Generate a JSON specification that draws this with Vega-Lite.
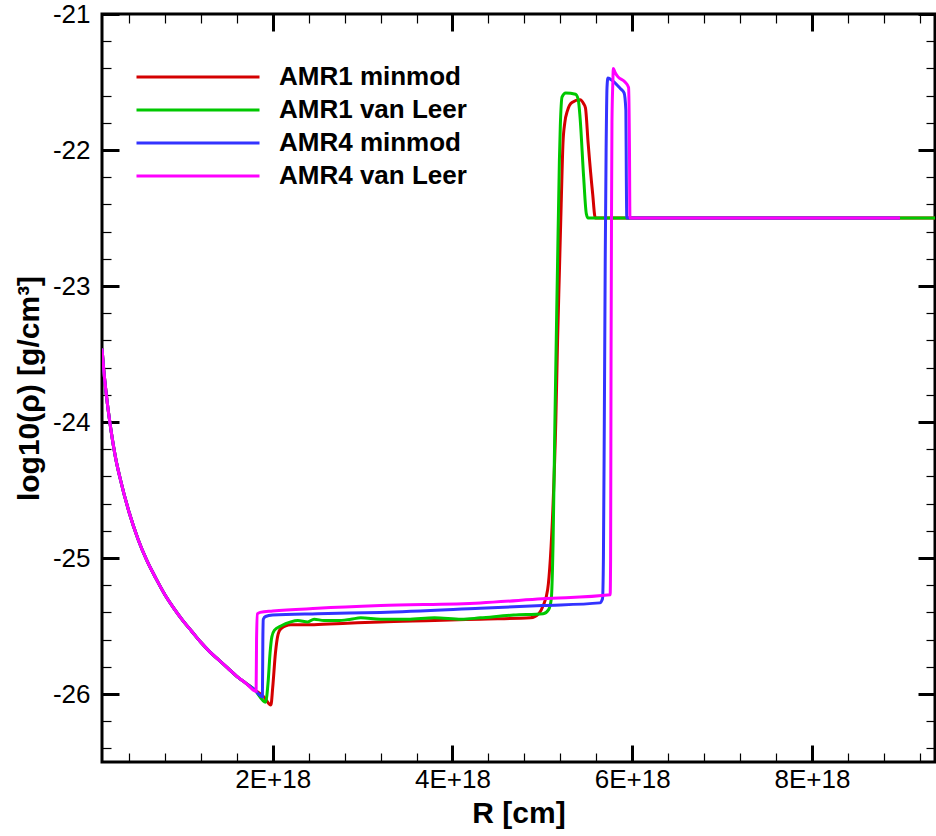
{
  "$schema": "https://vega.github.io/schema/vega-lite/v6.json",
  "width": 833,
  "height": 748,
  "autosize": {"type": "none"},
  "padding": {"left": 102, "top": 14, "right": 1, "bottom": 74},
  "background": "white",
  "config": {
    "view": {"stroke": "black", "strokeWidth": 3},
    "font": "Liberation Sans",
    "axis": {"grid": false, "domain": false, "labelFont": "Liberation Sans", "titleFont": "Liberation Sans", "labelColor": "black", "titleColor": "black", "tickColor": "black", "labelOverlap": false, "labelFlush": false}
  },
  "data": {"values": [
    {"run":"AMR1 minmod","R":0.1e18,"logrho":-23.46},{"run":"AMR1 minmod","R":0.12e18,"logrho":-23.62},{"run":"AMR1 minmod","R":0.15e18,"logrho":-23.81},{"run":"AMR1 minmod","R":0.2e18,"logrho":-24.06},{"run":"AMR1 minmod","R":0.25e18,"logrho":-24.26},{"run":"AMR1 minmod","R":0.3e18,"logrho":-24.41},{"run":"AMR1 minmod","R":0.4e18,"logrho":-24.66},{"run":"AMR1 minmod","R":0.5e18,"logrho":-24.86},{"run":"AMR1 minmod","R":0.6e18,"logrho":-25.02},{"run":"AMR1 minmod","R":0.7e18,"logrho":-25.15},{"run":"AMR1 minmod","R":0.8e18,"logrho":-25.27},{"run":"AMR1 minmod","R":0.9e18,"logrho":-25.37},{"run":"AMR1 minmod","R":1.0e18,"logrho":-25.46},{"run":"AMR1 minmod","R":1.1e18,"logrho":-25.54},{"run":"AMR1 minmod","R":1.2e18,"logrho":-25.62},{"run":"AMR1 minmod","R":1.3e18,"logrho":-25.69},{"run":"AMR1 minmod","R":1.4e18,"logrho":-25.75},{"run":"AMR1 minmod","R":1.5e18,"logrho":-25.81},{"run":"AMR1 minmod","R":1.6e18,"logrho":-25.87},{"run":"AMR1 minmod","R":1.7e18,"logrho":-25.92},{"run":"AMR1 minmod","R":1.8e18,"logrho":-25.97},{"run":"AMR1 minmod","R":1.9e18,"logrho":-26.02},{"run":"AMR1 minmod","R":1.98e18,"logrho":-26.08},{"run":"AMR1 minmod","R":2.0e18,"logrho":-25.95},{"run":"AMR1 minmod","R":2.03e18,"logrho":-25.7},{"run":"AMR1 minmod","R":2.06e18,"logrho":-25.56},{"run":"AMR1 minmod","R":2.09e18,"logrho":-25.52},{"run":"AMR1 minmod","R":2.2e18,"logrho":-25.49},{"run":"AMR1 minmod","R":2.46e18,"logrho":-25.49},{"run":"AMR1 minmod","R":2.83e18,"logrho":-25.48},{"run":"AMR1 minmod","R":3.2e18,"logrho":-25.47},{"run":"AMR1 minmod","R":3.8e18,"logrho":-25.46},{"run":"AMR1 minmod","R":4.31e18,"logrho":-25.45},{"run":"AMR1 minmod","R":4.87e18,"logrho":-25.44},{"run":"AMR1 minmod","R":4.96e18,"logrho":-25.41},{"run":"AMR1 minmod","R":5.01e18,"logrho":-25.35},{"run":"AMR1 minmod","R":5.06e18,"logrho":-25.23},{"run":"AMR1 minmod","R":5.09e18,"logrho":-25.0},{"run":"AMR1 minmod","R":5.12e18,"logrho":-24.6},{"run":"AMR1 minmod","R":5.15e18,"logrho":-24.0},{"run":"AMR1 minmod","R":5.17e18,"logrho":-23.4},{"run":"AMR1 minmod","R":5.19e18,"logrho":-22.9},{"run":"AMR1 minmod","R":5.21e18,"logrho":-22.4},{"run":"AMR1 minmod","R":5.23e18,"logrho":-21.95},{"run":"AMR1 minmod","R":5.25e18,"logrho":-21.8},{"run":"AMR1 minmod","R":5.28e18,"logrho":-21.71},{"run":"AMR1 minmod","R":5.33e18,"logrho":-21.65},{"run":"AMR1 minmod","R":5.42e18,"logrho":-21.63},{"run":"AMR1 minmod","R":5.46e18,"logrho":-21.66},{"run":"AMR1 minmod","R":5.48e18,"logrho":-21.69},{"run":"AMR1 minmod","R":5.51e18,"logrho":-21.95},{"run":"AMR1 minmod","R":5.56e18,"logrho":-22.32},{"run":"AMR1 minmod","R":5.59e18,"logrho":-22.5},{"run":"AMR1 minmod","R":9.4e18,"logrho":-22.5},

    {"run":"AMR1 van Leer","R":0.1e18,"logrho":-23.46},{"run":"AMR1 van Leer","R":0.12e18,"logrho":-23.62},{"run":"AMR1 van Leer","R":0.15e18,"logrho":-23.81},{"run":"AMR1 van Leer","R":0.2e18,"logrho":-24.06},{"run":"AMR1 van Leer","R":0.25e18,"logrho":-24.26},{"run":"AMR1 van Leer","R":0.3e18,"logrho":-24.41},{"run":"AMR1 van Leer","R":0.4e18,"logrho":-24.66},{"run":"AMR1 van Leer","R":0.5e18,"logrho":-24.86},{"run":"AMR1 van Leer","R":0.6e18,"logrho":-25.02},{"run":"AMR1 van Leer","R":0.7e18,"logrho":-25.15},{"run":"AMR1 van Leer","R":0.8e18,"logrho":-25.27},{"run":"AMR1 van Leer","R":0.9e18,"logrho":-25.37},{"run":"AMR1 van Leer","R":1.0e18,"logrho":-25.46},{"run":"AMR1 van Leer","R":1.1e18,"logrho":-25.54},{"run":"AMR1 van Leer","R":1.2e18,"logrho":-25.62},{"run":"AMR1 van Leer","R":1.3e18,"logrho":-25.69},{"run":"AMR1 van Leer","R":1.4e18,"logrho":-25.75},{"run":"AMR1 van Leer","R":1.5e18,"logrho":-25.81},{"run":"AMR1 van Leer","R":1.6e18,"logrho":-25.87},{"run":"AMR1 van Leer","R":1.7e18,"logrho":-25.92},{"run":"AMR1 van Leer","R":1.8e18,"logrho":-25.97},{"run":"AMR1 van Leer","R":1.92e18,"logrho":-26.06},{"run":"AMR1 van Leer","R":1.95e18,"logrho":-25.9},{"run":"AMR1 van Leer","R":1.97e18,"logrho":-25.7},{"run":"AMR1 van Leer","R":1.99e18,"logrho":-25.58},{"run":"AMR1 van Leer","R":2.02e18,"logrho":-25.53},{"run":"AMR1 van Leer","R":2.09e18,"logrho":-25.5},{"run":"AMR1 van Leer","R":2.2e18,"logrho":-25.47},{"run":"AMR1 van Leer","R":2.28e18,"logrho":-25.46},{"run":"AMR1 van Leer","R":2.39e18,"logrho":-25.47},{"run":"AMR1 van Leer","R":2.46e18,"logrho":-25.45},{"run":"AMR1 van Leer","R":2.57e18,"logrho":-25.46},{"run":"AMR1 van Leer","R":2.72e18,"logrho":-25.46},{"run":"AMR1 van Leer","R":2.87e18,"logrho":-25.45},{"run":"AMR1 van Leer","R":2.98e18,"logrho":-25.44},{"run":"AMR1 van Leer","R":3.2e18,"logrho":-25.45},{"run":"AMR1 van Leer","R":3.5e18,"logrho":-25.45},{"run":"AMR1 van Leer","R":3.8e18,"logrho":-25.44},{"run":"AMR1 van Leer","R":4.1e18,"logrho":-25.45},{"run":"AMR1 van Leer","R":4.31e18,"logrho":-25.44},{"run":"AMR1 van Leer","R":4.68e18,"logrho":-25.42},{"run":"AMR1 van Leer","R":5.01e18,"logrho":-25.41},{"run":"AMR1 van Leer","R":5.07e18,"logrho":-25.38},{"run":"AMR1 van Leer","R":5.1e18,"logrho":-25.3},{"run":"AMR1 van Leer","R":5.12e18,"logrho":-24.88},{"run":"AMR1 van Leer","R":5.14e18,"logrho":-24.0},{"run":"AMR1 van Leer","R":5.16e18,"logrho":-23.2},{"run":"AMR1 van Leer","R":5.17e18,"logrho":-22.82},{"run":"AMR1 van Leer","R":5.19e18,"logrho":-22.08},{"run":"AMR1 van Leer","R":5.2e18,"logrho":-21.83},{"run":"AMR1 van Leer","R":5.22e18,"logrho":-21.61},{"run":"AMR1 van Leer","R":5.26e18,"logrho":-21.58},{"run":"AMR1 van Leer","R":5.37e18,"logrho":-21.59},{"run":"AMR1 van Leer","R":5.4e18,"logrho":-21.63},{"run":"AMR1 van Leer","R":5.42e18,"logrho":-21.76},{"run":"AMR1 van Leer","R":5.46e18,"logrho":-22.2},{"run":"AMR1 van Leer","R":5.49e18,"logrho":-22.47},{"run":"AMR1 van Leer","R":5.51e18,"logrho":-22.5},{"run":"AMR1 van Leer","R":9.4e18,"logrho":-22.5},

    {"run":"AMR4 minmod","R":0.1e18,"logrho":-23.46},{"run":"AMR4 minmod","R":0.12e18,"logrho":-23.62},{"run":"AMR4 minmod","R":0.15e18,"logrho":-23.81},{"run":"AMR4 minmod","R":0.2e18,"logrho":-24.06},{"run":"AMR4 minmod","R":0.25e18,"logrho":-24.26},{"run":"AMR4 minmod","R":0.3e18,"logrho":-24.41},{"run":"AMR4 minmod","R":0.4e18,"logrho":-24.66},{"run":"AMR4 minmod","R":0.5e18,"logrho":-24.86},{"run":"AMR4 minmod","R":0.6e18,"logrho":-25.02},{"run":"AMR4 minmod","R":0.7e18,"logrho":-25.15},{"run":"AMR4 minmod","R":0.8e18,"logrho":-25.27},{"run":"AMR4 minmod","R":0.9e18,"logrho":-25.37},{"run":"AMR4 minmod","R":1.0e18,"logrho":-25.46},{"run":"AMR4 minmod","R":1.1e18,"logrho":-25.54},{"run":"AMR4 minmod","R":1.2e18,"logrho":-25.62},{"run":"AMR4 minmod","R":1.3e18,"logrho":-25.69},{"run":"AMR4 minmod","R":1.4e18,"logrho":-25.75},{"run":"AMR4 minmod","R":1.5e18,"logrho":-25.81},{"run":"AMR4 minmod","R":1.6e18,"logrho":-25.87},{"run":"AMR4 minmod","R":1.7e18,"logrho":-25.92},{"run":"AMR4 minmod","R":1.8e18,"logrho":-25.97},{"run":"AMR4 minmod","R":1.885e18,"logrho":-26.02},{"run":"AMR4 minmod","R":1.89e18,"logrho":-25.6},{"run":"AMR4 minmod","R":1.895e18,"logrho":-25.45},{"run":"AMR4 minmod","R":1.92e18,"logrho":-25.43},{"run":"AMR4 minmod","R":2.0e18,"logrho":-25.42},{"run":"AMR4 minmod","R":2.5e18,"logrho":-25.41},{"run":"AMR4 minmod","R":3.2e18,"logrho":-25.4},{"run":"AMR4 minmod","R":4.31e18,"logrho":-25.37},{"run":"AMR4 minmod","R":5.0e18,"logrho":-25.35},{"run":"AMR4 minmod","R":5.64e18,"logrho":-25.33},{"run":"AMR4 minmod","R":5.67e18,"logrho":-25.3},{"run":"AMR4 minmod","R":5.68e18,"logrho":-25.0},{"run":"AMR4 minmod","R":5.69e18,"logrho":-24.0},{"run":"AMR4 minmod","R":5.7e18,"logrho":-22.82},{"run":"AMR4 minmod","R":5.71e18,"logrho":-22.0},{"run":"AMR4 minmod","R":5.72e18,"logrho":-21.54},{"run":"AMR4 minmod","R":5.73e18,"logrho":-21.47},{"run":"AMR4 minmod","R":5.78e18,"logrho":-21.49},{"run":"AMR4 minmod","R":5.87e18,"logrho":-21.55},{"run":"AMR4 minmod","R":5.91e18,"logrho":-21.58},{"run":"AMR4 minmod","R":5.93e18,"logrho":-21.71},{"run":"AMR4 minmod","R":5.935e18,"logrho":-22.2},{"run":"AMR4 minmod","R":5.94e18,"logrho":-22.5},{"run":"AMR4 minmod","R":5.96e18,"logrho":-22.5},{"run":"AMR4 minmod","R":8.98e18,"logrho":-22.5},

    {"run":"AMR4 van Leer","R":0.1e18,"logrho":-23.46},{"run":"AMR4 van Leer","R":0.12e18,"logrho":-23.62},{"run":"AMR4 van Leer","R":0.15e18,"logrho":-23.81},{"run":"AMR4 van Leer","R":0.2e18,"logrho":-24.06},{"run":"AMR4 van Leer","R":0.25e18,"logrho":-24.26},{"run":"AMR4 van Leer","R":0.3e18,"logrho":-24.41},{"run":"AMR4 van Leer","R":0.4e18,"logrho":-24.66},{"run":"AMR4 van Leer","R":0.5e18,"logrho":-24.86},{"run":"AMR4 van Leer","R":0.6e18,"logrho":-25.02},{"run":"AMR4 van Leer","R":0.7e18,"logrho":-25.15},{"run":"AMR4 van Leer","R":0.8e18,"logrho":-25.27},{"run":"AMR4 van Leer","R":0.9e18,"logrho":-25.37},{"run":"AMR4 van Leer","R":1.0e18,"logrho":-25.46},{"run":"AMR4 van Leer","R":1.1e18,"logrho":-25.54},{"run":"AMR4 van Leer","R":1.2e18,"logrho":-25.62},{"run":"AMR4 van Leer","R":1.3e18,"logrho":-25.69},{"run":"AMR4 van Leer","R":1.4e18,"logrho":-25.75},{"run":"AMR4 van Leer","R":1.5e18,"logrho":-25.81},{"run":"AMR4 van Leer","R":1.6e18,"logrho":-25.87},{"run":"AMR4 van Leer","R":1.7e18,"logrho":-25.92},{"run":"AMR4 van Leer","R":1.815e18,"logrho":-25.98},{"run":"AMR4 van Leer","R":1.82e18,"logrho":-25.6},{"run":"AMR4 van Leer","R":1.83e18,"logrho":-25.41},{"run":"AMR4 van Leer","R":1.86e18,"logrho":-25.4},{"run":"AMR4 van Leer","R":2.0e18,"logrho":-25.39},{"run":"AMR4 van Leer","R":2.5e18,"logrho":-25.37},{"run":"AMR4 van Leer","R":3.2e18,"logrho":-25.35},{"run":"AMR4 van Leer","R":4.31e18,"logrho":-25.33},{"run":"AMR4 van Leer","R":5.0e18,"logrho":-25.3},{"run":"AMR4 van Leer","R":5.755e18,"logrho":-25.27},{"run":"AMR4 van Leer","R":5.76e18,"logrho":-25.0},{"run":"AMR4 van Leer","R":5.765e18,"logrho":-23.5},{"run":"AMR4 van Leer","R":5.77e18,"logrho":-22.5},{"run":"AMR4 van Leer","R":5.775e18,"logrho":-21.8},{"run":"AMR4 van Leer","R":5.785e18,"logrho":-21.5},{"run":"AMR4 van Leer","R":5.79e18,"logrho":-21.4},{"run":"AMR4 van Leer","R":5.81e18,"logrho":-21.43},{"run":"AMR4 van Leer","R":5.84e18,"logrho":-21.46},{"run":"AMR4 van Leer","R":5.92e18,"logrho":-21.5},{"run":"AMR4 van Leer","R":5.96e18,"logrho":-21.54},{"run":"AMR4 van Leer","R":5.97e18,"logrho":-22.0},{"run":"AMR4 van Leer","R":5.975e18,"logrho":-22.5},{"run":"AMR4 van Leer","R":8.98e18,"logrho":-22.5}
  ]},
  "resolve": {"axis": {"x": "independent", "y": "independent"}},
  "layer": [
    {
      "mark": {"type": "line", "strokeWidth": 3, "clip": true, "interpolate": "monotone"},
      "encoding": {
        "x": {"field": "R", "type": "quantitative",
              "scale": {"domain": [1e17, 9.37e18], "nice": false, "zero": false},
              "axis": {"orient": "bottom", "ticks": false, "values": [2e18, 4e18, 6e18, 8e18],
                       "labelExpr": "format(datum.value/1e18,'d') + 'E+18'",
                       "labelFontSize": 26, "labelPadding": 4,
                       "title": "R [cm]", "titleFontSize": 30, "titleFontWeight": "bold",
                       "titleY": 51, "titleBaseline": "middle"}},
        "y": {"field": "logrho", "type": "quantitative",
              "scale": {"domain": [-26.5, -21], "nice": false, "zero": false},
              "axis": {"orient": "left", "ticks": false, "values": [-26, -25, -24, -23, -22, -21],
                       "labelExpr": "(datum.value < 0 ? '-' : '') + format(abs(datum.value), 'd')",
                       "labelFontSize": 26, "labelPadding": 12,
                       "title": "log10(ρ) [g/cm³]", "titleFontSize": 30, "titleFontWeight": "bold",
                       "titleX": -73, "titleY": 374, "titleAngle": -90, "titleBaseline": "middle"}},
        "color": {"field": "run", "type": "nominal",
                  "scale": {"domain": ["AMR1 minmod", "AMR1 van Leer", "AMR4 minmod", "AMR4 van Leer"],
                            "range": ["#d40000", "#00c800", "#3333ff", "#ff00ff"]},
                  "legend": {"orient": "none", "legendX": 33, "legendY": 46.5, "title": null,
                             "symbolType": "stroke", "symbolSize": 15129, "symbolStrokeWidth": 3,
                             "clipHeight": 33, "rowPadding": 0,
                             "labelFont": "Liberation Sans", "labelFontSize": 26, "labelFontWeight": "bold",
                             "labelColor": "black", "labelOffset": 18, "padding": 0, "labelLimit": 0}}
      }
    },
    {
      "mark": {"type": "line", "opacity": 0},
      "encoding": {
        "x": {"field": "R", "type": "quantitative",
              "axis": {"orient": "bottom", "labels": false, "title": null, "values": [2e18, 4e18, 6e18, 8e18], "tickSize": -17, "tickWidth": 3}},
        "y": {"field": "logrho", "type": "quantitative",
              "axis": {"orient": "left", "labels": false, "title": null, "values": [-26, -25, -24, -23, -22, -21], "tickSize": -17, "tickWidth": 3}},
        "detail": {"field": "run"}
      }
    },
    {
      "mark": {"type": "line", "opacity": 0},
      "encoding": {
        "x": {"field": "R", "type": "quantitative",
              "axis": {"orient": "top", "labels": false, "title": null, "values": [2e18, 4e18, 6e18, 8e18], "tickSize": -17, "tickWidth": 3}},
        "y": {"field": "logrho", "type": "quantitative",
              "axis": {"orient": "right", "labels": false, "title": null, "values": [-26, -25, -24, -23, -22, -21], "tickSize": -17, "tickWidth": 3}},
        "detail": {"field": "run"}
      }
    },
    {
      "mark": {"type": "line", "opacity": 0},
      "encoding": {
        "x": {"field": "R", "type": "quantitative",
              "axis": {"orient": "bottom", "labels": false, "title": null, "values": [4e17, 8e17, 1.2e18, 1.6e18, 2.4e18, 2.8e18, 3.2e18, 3.6e18, 4.4e18, 4.8e18, 5.2e18, 5.6e18, 6.4e18, 6.8e18, 7.2e18, 7.6e18, 8.4e18, 8.8e18, 9.2e18], "tickSize": -9, "tickWidth": 1.2}},
        "y": {"field": "logrho", "type": "quantitative",
              "axis": {"orient": "left", "labels": false, "title": null, "values": [-26.4, -26.2, -25.8, -25.6, -25.4, -25.2, -24.8, -24.6, -24.4, -24.2, -23.8, -23.6, -23.4, -23.2, -22.8, -22.6, -22.4, -22.2, -21.8, -21.6, -21.4, -21.2], "tickSize": -9, "tickWidth": 1.2}},
        "detail": {"field": "run"}
      }
    },
    {
      "mark": {"type": "line", "opacity": 0},
      "encoding": {
        "x": {"field": "R", "type": "quantitative",
              "axis": {"orient": "top", "labels": false, "title": null, "values": [4e17, 8e17, 1.2e18, 1.6e18, 2.4e18, 2.8e18, 3.2e18, 3.6e18, 4.4e18, 4.8e18, 5.2e18, 5.6e18, 6.4e18, 6.8e18, 7.2e18, 7.6e18, 8.4e18, 8.8e18, 9.2e18], "tickSize": -9, "tickWidth": 1.2}},
        "y": {"field": "logrho", "type": "quantitative",
              "axis": {"orient": "right", "labels": false, "title": null, "values": [-26.4, -26.2, -25.8, -25.6, -25.4, -25.2, -24.8, -24.6, -24.4, -24.2, -23.8, -23.6, -23.4, -23.2, -22.8, -22.6, -22.4, -22.2, -21.8, -21.6, -21.4, -21.2], "tickSize": -9, "tickWidth": 1.2}},
        "detail": {"field": "run"}
      }
    }
  ]
}
